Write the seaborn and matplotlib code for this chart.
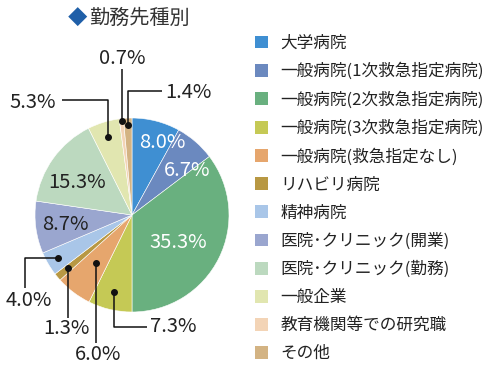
import matplotlib
matplotlib.use("Agg")
import matplotlib.pyplot as plt
import numpy as np
import seaborn as sns
from matplotlib.patches import Patch

# ---------------------------------------------------------------------------
# data
# ---------------------------------------------------------------------------
categories = [
    "大学病院",
    "一般病院(1次救急指定病院)",
    "一般病院(2次救急指定病院)",
    "一般病院(3次救急指定病院)",
    "一般病院(救急指定なし)",
    "リハビリ病院",
    "精神病院",
    "医院･クリニック(開業)",
    "医院･クリニック(勤務)",
    "一般企業",
    "教育機関等での研究職",
    "その他",
]
shares = [8.0, 6.7, 35.3, 7.3, 6.0, 1.3, 4.0, 8.7, 15.3, 5.3, 0.7, 1.4]
colors = ["#3f8fd2", "#6b89bf", "#69b07f", "#c5c955", "#e6a66d", "#b89843",
          "#a9c6e8", "#9aa6cf", "#bcd9bf", "#e1e6b0", "#f3d4b6", "#d3b383"]
title = "勤務先種別"

sns.set_theme(style="white")
plt.rcParams["font.family"] = ["Noto Sans CJK JP", "DejaVu Sans"]

W, H = 500, 374
fig = plt.figure(figsize=(W / 100, H / 100), dpi=100)

# pie centre (132, 215) px, radius 97 px
cx, cy, R = 132, 215, 97
ax = fig.add_axes([(cx - R) / W, 1 - (cy + R) / H, 2 * R / W, 2 * R / H])
ax.pie(shares, colors=colors, startangle=90, counterclock=False, radius=1,
       wedgeprops=dict(edgecolor="white", linewidth=0.4))
ax.set_xlim(-1, 1)
ax.set_ylim(-1, 1)
ax.set_aspect("equal")
ax.axis("off")


def px(x, y):
    return (x - cx) / R, (cy - y) / R


# mid-angle of each slice (degrees, clockwise from 12 o'clock)
cum = np.cumsum([0] + shares[:-1])
mid = np.deg2rad(90 - (cum + np.array(shares) / 2) * 3.6)

# labels inside the pie: index -> (text px position, colour)
inside = {0: ((162, 142), "white"), 1: ((187, 170), "white"),
          2: ((178, 242), "white"), 8: ((77, 182), "#222222"),
          7: ((65, 225), "#222222")}
for i, (pos, col) in inside.items():
    ax.text(*px(*pos), f"{shares[i]:.1f}%", color=col, fontsize=14.5,
            ha="center", va="center")

# labels outside: index -> (dot radius, elbow path px, text pos px, ha)
outside = {
    10: (0.98, [(119, 69)], (122, 58), "center"),
    11: (0.93, [(127, 91), (162, 91)], (165, 92), "left"),
    9: (0.84, [(105, 100), (62, 100)], (56, 102), "right"),
    6: (0.88, [(25, 259), (25, 288)], (29, 301), "center"),
    5: (0.86, [(68, 318)], (66, 329), "center"),
    4: (0.62, [(96, 343)], (98, 355), "center"),
    3: (0.81, [(115, 327), (147, 327)], (150, 327), "left"),
}
for i, (r, path, tpos, ha) in outside.items():
    dx, dy = r * np.cos(mid[i]), r * np.sin(mid[i])
    pts = [(dx, dy)]
    for k, p in enumerate(path):
        q = px(*p)
        # keep the first segment straight from the dot
        if k == 0:
            if abs(q[0] - dx) < abs(q[1] - dy):
                q = (dx, q[1])
            else:
                q = (q[0], dy)
        pts.append(q)
        if k == 1:
            prev = pts[-2]
            if abs(p[0] - path[0][0]) < abs(p[1] - path[0][1]):
                pts[-1] = (prev[0], q[1])
            else:
                pts[-1] = (q[0], prev[1])
    xs, ys = zip(*pts)
    ax.plot(xs, ys, color="#111111", lw=1.1, clip_on=False,
            solid_capstyle="butt")
    ax.plot([dx], [dy], "o", color="#111111", ms=4, clip_on=False)
    ax.text(*px(*tpos), f"{shares[i]:.1f}%", color="#222222", fontsize=14.5,
            ha=ha, va="center")

# title
fig.text(68 / W, 1 - 18 / H, "◆", color="#1f5fa8", fontsize=14,
         ha="left", va="center")
fig.text(89 / W, 1 - 18 / H, title, color="#333333", fontsize=14.5,
         ha="left", va="center")

# legend
handles = [Patch(facecolor=c, edgecolor="none", label=l)
           for c, l in zip(colors, categories)]
fig.legend(handles=handles, loc="upper left",
           bbox_to_anchor=(248 / W, 1 - 28 / H), frameon=False,
           fontsize=12, handlelength=0.8, handleheight=0.8,
           handletextpad=0.75, labelspacing=0.66, borderaxespad=0,
           labelcolor="#222222")

fig.savefig("out.png", dpi=100)
